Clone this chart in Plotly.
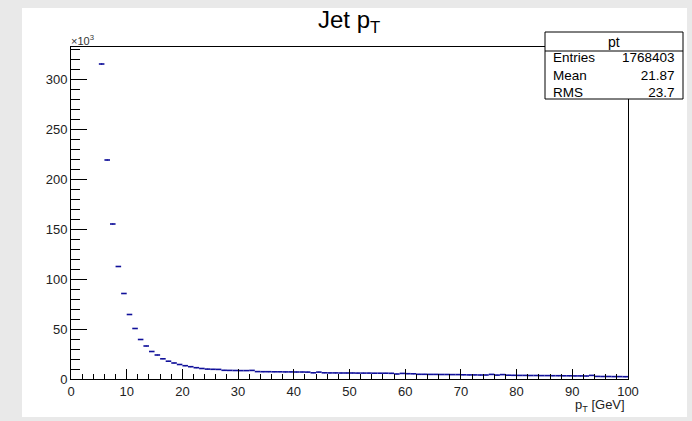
import numpy as np
import plotly.graph_objects as go

# ---- data ----
bin_low = list(range(5, 100))  # bins of width 1 GeV, 5..100
counts = [315000, 219000, 155000, 112500, 85500, 64500, 50500, 39500, 33000, 27500,
          24000, 20200, 17800, 16000, 14500, 13300, 12300, 11300, 10500, 9900,
          9700, 9600, 8700, 8600, 8500, 8400, 8400, 8600, 7400, 7300,
          7300, 7200, 7200, 7100, 7100, 7000, 7000, 6900, 6200, 6900,
          6200, 6100, 6100, 6000, 6000, 6000, 5900, 5900, 5900, 5800,
          5800, 5800, 5700, 5000, 5600, 5300, 5200, 4700, 4700, 4600,
          4600, 4500, 4500, 4400, 4400, 4200, 4100, 4100, 4000, 4000,
          4600, 3900, 4400, 3800, 3700, 3600, 3600, 3500, 3500, 3400,
          3400, 3300, 3300, 3200, 3200, 3100, 3100, 3000, 3600, 2600,
          2500, 2500, 2400, 2400, 2300]
y_tickvals = [0, 50, 100, 150, 200, 250, 300]
x_tickvals = [0, 10, 20, 30, 40, 50, 60, 70, 80, 90, 100]
stats_labels = ["Entries", "Mean", "RMS"]
stats_values = ["1768403", "21.87", "23.7"]

W, H = 692, 421
L, R, T, B = 71, 628, 47, 379
PW, PH = R - L, B - T

def px(xp):
    return (xp - L) / PW

def py(yp):
    return 1 - (yp - T) / PH

centers = [b + 0.5 for b in bin_low]
yk = [c / 1000 for c in counts]
err = [np.sqrt(c) / 1000 for c in counts]

blue = "#10109a"
fig = go.Figure()
fig.add_trace(go.Scatter(
    x=centers, y=yk, mode="markers",
    marker=dict(size=1, color=blue),
    error_x=dict(type="constant", value=0.5, width=0, thickness=1.6, color=blue),
    error_y=dict(type="data", array=err, width=0, thickness=1, color=blue),
    showlegend=False, hoverinfo="skip"))

font = "Liberation Sans, Arial, sans-serif"
fig.update_layout(
    width=W, height=H,
    margin=dict(l=L, r=W - R, t=T, b=H - B),
    paper_bgcolor="#e9e9e9", plot_bgcolor="white",
    font=dict(family=font, color="#222", size=13),
    xaxis=dict(range=[0, 100], showgrid=False, zeroline=False,
               showline=True, linecolor="black", linewidth=1, mirror=True,
               ticks="inside", ticklen=10, tickcolor="black", tickwidth=1,
               tickvals=x_tickvals, tickfont=dict(size=13, color="#222"),
               minor=dict(ticks="inside", ticklen=5, dtick=2, tickcolor="black", showgrid=False)),
    yaxis=dict(range=[0, 332], showgrid=False, zeroline=False,
               showline=True, linecolor="black", linewidth=1, mirror=True,
               ticks="inside", ticklen=16, tickcolor="black", tickwidth=1,
               tickvals=y_tickvals, tickfont=dict(size=13, color="#222"),
               minor=dict(ticks="inside", ticklen=9, dtick=10, tickcolor="black", showgrid=False)),
)

shapes = [
    # white canvas
    dict(type="rect", xref="paper", yref="paper", x0=px(22), x1=px(687), y0=py(417), y1=py(8),
         fillcolor="white", line=dict(width=0), layer="below"),
    # stats box
    dict(type="rect", xref="paper", yref="paper", x0=px(545), x1=px(683), y0=py(99), y1=py(32),
         fillcolor="white", line=dict(width=1, color="black"), layer="above"),
    dict(type="line", xref="paper", yref="paper", x0=px(545), x1=px(683), y0=py(51), y1=py(51),
         line=dict(width=1, color="black"), layer="above"),
]
fig.update_layout(shapes=shapes)

ann = [
    dict(text="Jet p<sub>T</sub>", x=px(349), y=py(22), xref="paper", yref="paper",
         showarrow=False, font=dict(size=24, color="black"), xanchor="center", yanchor="middle"),
    dict(text="×10<sup>3</sup>", x=px(69), y=py(40), xref="paper", yref="paper",
         showarrow=False, font=dict(size=11, color="#333"), xanchor="left", yanchor="middle"),
    dict(text="p<sub>T</sub> [GeV]", x=px(627), y=py(405), xref="paper", yref="paper",
         showarrow=False, font=dict(size=13, color="#222"), xanchor="right", yanchor="middle"),
    dict(text="pt", x=px(614), y=py(41.5), xref="paper", yref="paper",
         showarrow=False, font=dict(size=14, color="black"), xanchor="center", yanchor="middle"),
    dict(text="<br>".join(stats_labels), x=px(551), y=py(75), xref="paper", yref="paper",
         showarrow=False, align="left", font=dict(size=13.5, color="black"),
         xanchor="left", yanchor="middle"),
    dict(text="<br>".join(stats_values), x=px(677), y=py(75), xref="paper", yref="paper",
         showarrow=False, align="right", font=dict(size=13.5, color="black"),
         xanchor="right", yanchor="middle"),
]
fig.update_layout(annotations=ann)

fig.write_html("out.html")
